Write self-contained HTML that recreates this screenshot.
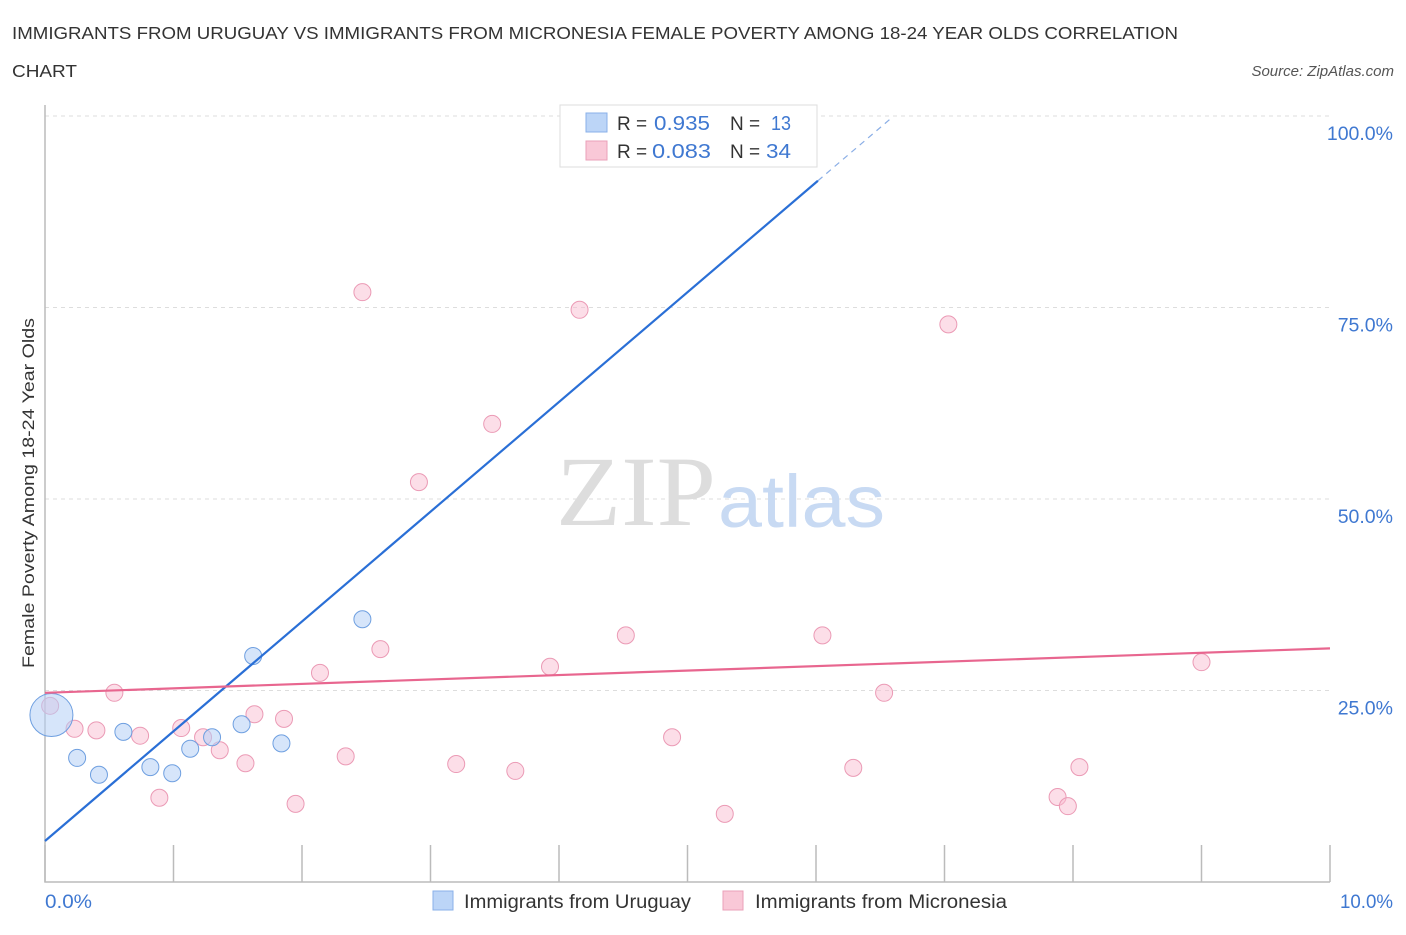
<!DOCTYPE html>
<html><head><meta charset="utf-8"><style>
body{margin:0;background:#fff;font-family:"Liberation Sans",sans-serif;}
</style></head><body>
<svg width="1406" height="930" xmlns="http://www.w3.org/2000/svg" style="font-family:'Liberation Sans',sans-serif">
<text x="12" y="39" font-size="17.5" fill="#333" textLength="1166" lengthAdjust="spacingAndGlyphs">IMMIGRANTS FROM URUGUAY VS IMMIGRANTS FROM MICRONESIA FEMALE POVERTY AMONG 18-24 YEAR OLDS CORRELATION</text>
<text x="12" y="77" font-size="17.5" fill="#333" textLength="65" lengthAdjust="spacingAndGlyphs">CHART</text>
<text x="1394" y="76" font-size="15" fill="#555" font-style="italic" text-anchor="end">Source: ZipAtlas.com</text>
<g id="grid"></g>
<text x="716" y="525" font-size="100" text-anchor="end" fill="#ddd" font-family="Liberation Serif" textLength="160" lengthAdjust="spacingAndGlyphs">ZIP</text>
<text x="718" y="527" font-size="74" fill="#c8daf3" textLength="167" lengthAdjust="spacingAndGlyphs">atlas</text>
<g id="plot"></g>
<text transform="translate(34,493) rotate(-90)" font-size="17" fill="#333" text-anchor="middle" textLength="350" lengthAdjust="spacingAndGlyphs">Female Poverty Among 18-24 Year Olds</text>
<text x="45" y="908" font-size="19" fill="#3f78d1" textLength="47" lengthAdjust="spacingAndGlyphs">0.0%</text>
<text x="1340" y="908" font-size="19" fill="#3f78d1" textLength="53" lengthAdjust="spacingAndGlyphs">10.0%</text>
<g>
<rect x="560" y="105" width="257" height="62" fill="#fff" stroke="#ddd"/>
<rect x="586" y="113" width="21" height="19" fill="#bcd5f7" stroke="#8ab0e8"/>
<rect x="586" y="141" width="21" height="19" fill="#f9c8d7" stroke="#eaa0b8"/>
<text x="617" y="130" font-size="19" fill="#333">R =</text>
<text x="654" y="130" font-size="20" fill="#3f78d1" textLength="56" lengthAdjust="spacingAndGlyphs">0.935</text>
<text x="730" y="130" font-size="19" fill="#333">N =</text>
<text x="771" y="130" font-size="20" fill="#3f78d1" textLength="20" lengthAdjust="spacingAndGlyphs">13</text>
<text x="617" y="158" font-size="19" fill="#333">R =</text>
<text x="652" y="158" font-size="20" fill="#3f78d1" textLength="59" lengthAdjust="spacingAndGlyphs">0.083</text>
<text x="730" y="158" font-size="19" fill="#333">N =</text>
<text x="766" y="158" font-size="20" fill="#3f78d1" textLength="25" lengthAdjust="spacingAndGlyphs">34</text>
</g>
<g>
<rect x="433" y="891" width="20" height="19" fill="#bcd5f7" stroke="#8ab0e8"/>
<text x="464" y="908" font-size="19" fill="#333" textLength="227" lengthAdjust="spacingAndGlyphs">Immigrants from Uruguay</text>
<rect x="723" y="891" width="20" height="19" fill="#f9c8d7" stroke="#eaa0b8"/>
<text x="755" y="908" font-size="19" fill="#333" textLength="252" lengthAdjust="spacingAndGlyphs">Immigrants from Micronesia</text>
</g>
</svg>
<script>
const yTicks=[25,50,75,100];
const yTickLabels=["25.0%","50.0%","75.0%","100.0%"];
const xTicks=[0,1,2,3,4,5,6,7,8,9,10];
const uruguayX=[0.05,0.25,0.42,0.61,0.82,0.99,1.13,1.30,1.53,1.62,1.84,2.47,5.88];
const uruguayY=[21.8,16.2,14.0,19.6,15.0,14.2,17.4,18.9,20.6,29.5,18.1,34.3,100.0];
const uruguaySize=[22,9,9,9,9,9,9,9,9,9,9,9,9];
const microX=[0.04,0.23,0.40,0.54,0.74,0.89,1.06,1.23,1.36,1.56,1.63,1.86,1.95,2.14,2.34,2.47,2.61,2.91,3.20,3.48,3.66,3.93,4.16,4.52,4.88,5.29,6.05,6.29,6.53,7.03,7.88,7.96,8.05,9.00];
const microY=[23.0,20.0,19.8,24.7,19.1,11.0,20.1,18.9,17.2,15.5,21.9,21.3,10.2,27.3,16.4,77.0,30.4,52.2,15.4,59.8,14.5,28.1,74.7,32.2,18.9,8.9,32.2,14.9,24.7,72.8,11.1,9.9,15.0,28.7];
const uruguayTrend=[5.35,14.33]; // intercept, slope
const microTrend=[24.7,0.58];
const NS="http://www.w3.org/2000/svg";
const X=v=>45+v*128.5, Y=v=>882-v*7.66;
function mk(tag,attrs,parent){const e=document.createElementNS(NS,tag);for(const k in attrs)e.setAttribute(k,attrs[k]);parent.appendChild(e);return e;}
const grid=document.getElementById('grid'), plot=document.getElementById('plot');
yTicks.forEach((t,i)=>{
 const l=mk('line',{x1:45,x2:1330,y1:Y(t),y2:Y(t),stroke:'#ddd','stroke-dasharray':'4,4'},grid);
 
 
 const tx=mk('text',{x:1393,y:Y(t)+24,'font-size':19.5,fill:'#3f78d1','text-anchor':'end'},grid);
 tx.textContent=yTickLabels[i];
 
 
});
const ax=mk('path',{d:`M45,105 V882 H1330`,fill:'none',stroke:'#bbb','stroke-width':1.5},grid);


xTicks.forEach(t=>{
 const l=mk('line',{x1:X(t),x2:X(t),y1:845,y2:882,stroke:'#bbb','stroke-width':1.5},grid);
 
 
});
microX.forEach((x,i)=>{
 const c=mk('circle',{cx:X(x),cy:Y(microY[i]),r:8.5,fill:'rgba(249,190,210,0.5)',stroke:'#eb9ab5','stroke-width':1},plot);
 
 
});
uruguayX.forEach((x,i)=>{
 const c=mk('circle',{cx:X(x),cy:Y(uruguayY[i]),r:uruguaySize[i]-0.5,fill:'rgba(180,208,245,0.55)',stroke:'#6e9fe0','stroke-width':1},plot);
 
 
});
const ue=6.015, uEnd=uruguayTrend[0]+uruguayTrend[1]*ue;
const t1=mk('line',{x1:X(0),y1:Y(uruguayTrend[0]),x2:X(ue),y2:Y(uEnd),stroke:'#2a6fd6','stroke-width':2.2},plot);


const ue2=6.58;
const t2=mk('line',{x1:X(ue),y1:Y(uEnd),x2:X(ue2),y2:Y(uruguayTrend[0]+uruguayTrend[1]*ue2),stroke:'#8aaee6','stroke-width':1.2,'stroke-dasharray':'6,5'},plot);


const t3=mk('line',{x1:X(0),y1:Y(microTrend[0]),x2:X(10),y2:Y(microTrend[0]+microTrend[1]*10),stroke:'#e8668f','stroke-width':2.2},plot);


</script>
</body></html>
